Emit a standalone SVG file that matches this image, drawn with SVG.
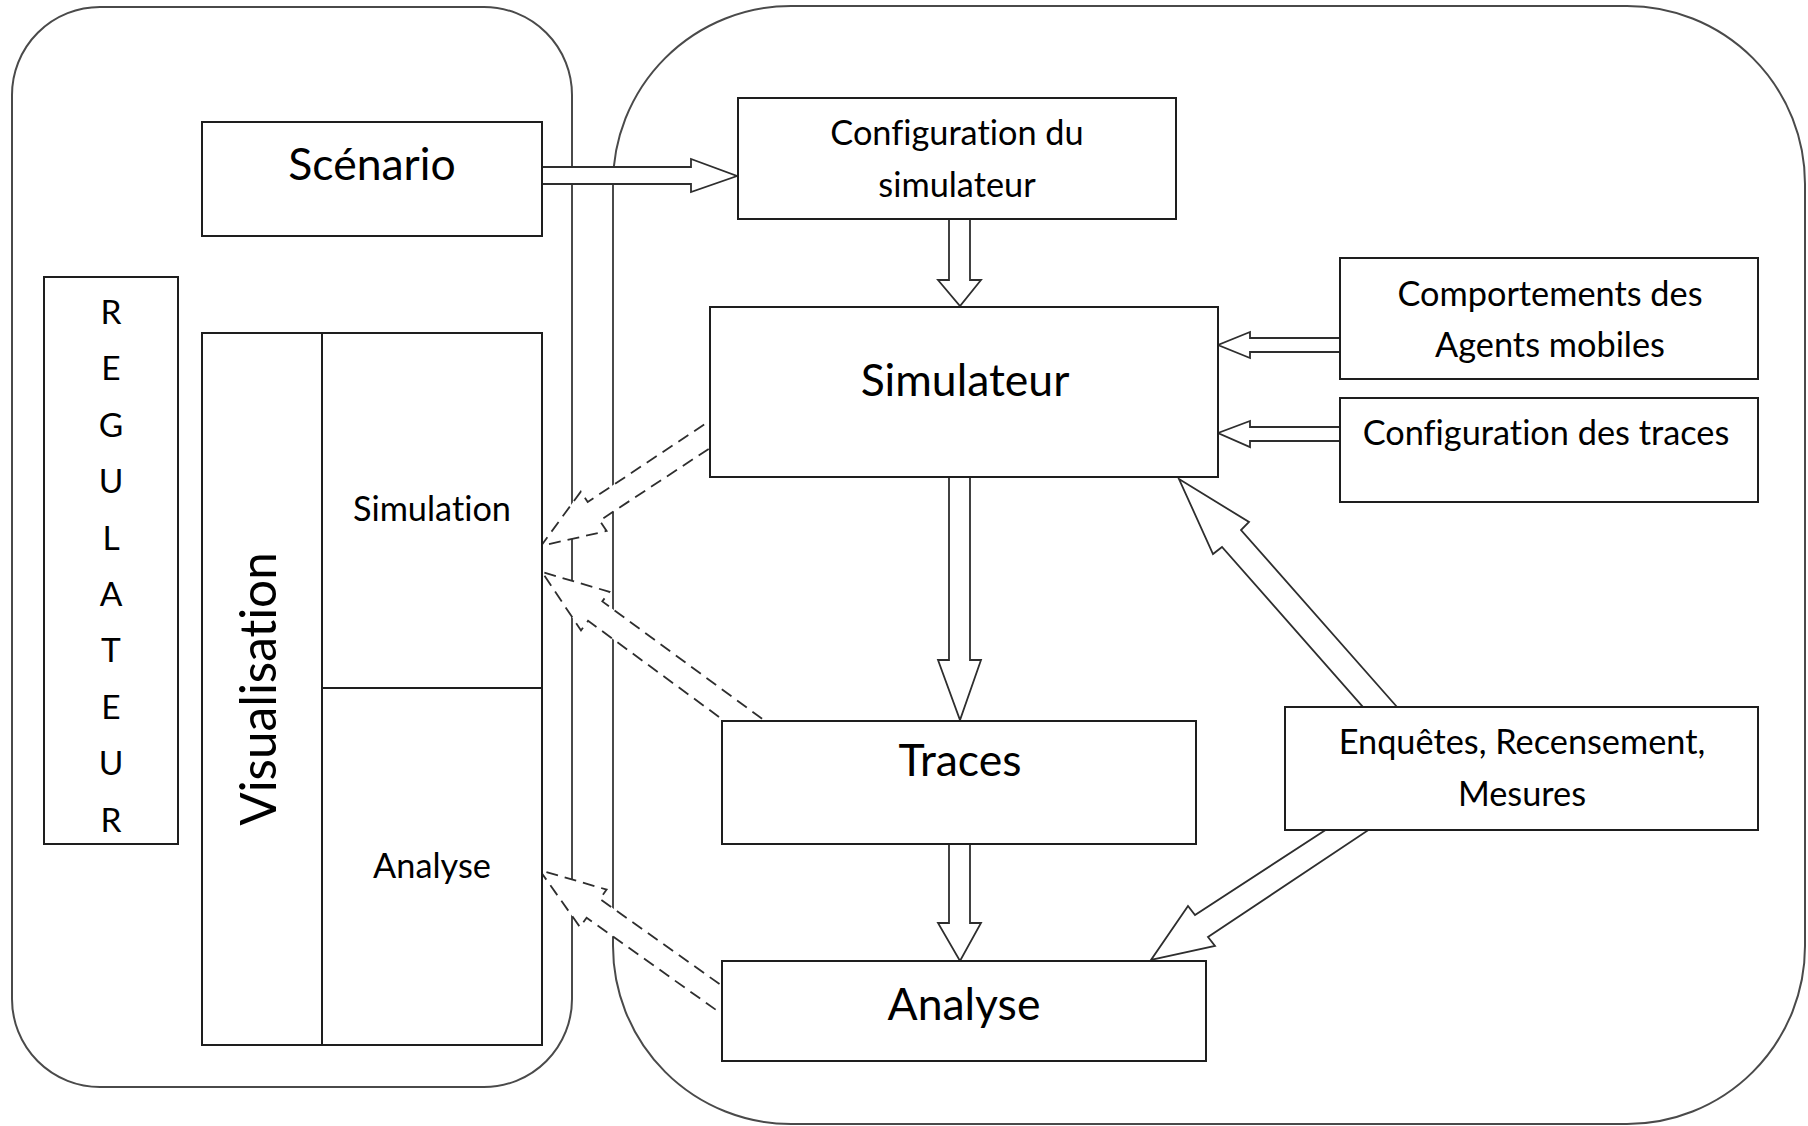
<svg xmlns="http://www.w3.org/2000/svg" width="1808" height="1126" viewBox="0 0 1808 1126">
<style>
.cont{fill:#fff;stroke:#4a4a4a;stroke-width:2}
.box{fill:#fff;stroke:#1e1e1e;stroke-width:2}
.arr{fill:#fff;stroke:#2e2e2e;stroke-width:1.8;stroke-linejoin:miter}
.dash{fill:#fff;stroke:#2e2e2e;stroke-width:1.8;stroke-dasharray:12 7}
.t{font-family:Lato,"Liberation Sans",sans-serif;fill:#000;text-anchor:middle;font-variant-ligatures:none}
.big{font-size:44.5px}
.med{font-size:34.3px}
.let{font-size:33.5px}
</style>
<rect width="1808" height="1126" fill="#fff"/>
<g id="containers">
<rect id="left-container" class="cont" x="12" y="7" width="560" height="1080" rx="88" ry="88"/>
<rect id="right-container" class="cont" x="613" y="6" width="1192" height="1118" rx="178" ry="178"/>
</g>
<g id="connectors">
<polygon class="arr" points="530,167 691,167 691,159 737,176 691,192 691,184 530,184"/>
<polygon class="arr" points="949,210 949,280 938,280 960,306 981,280 970,280 970,210"/>
<polygon class="arr" points="949,470 949,660 938,660 960,720 981,660 970,660 970,470"/>
<polygon class="arr" points="949,835 949,923 938,923 960,961 981,923 970,923 970,835"/>
<polygon class="arr" points="1350,338 1250,338 1250,332 1218,345 1250,358 1250,352 1350,352"/>
<polygon class="arr" points="1350,427 1250,427 1250,421 1218,433 1250,447 1250,441 1350,441"/>
<polygon class="arr" points="1408.5,720 1241,530 1249,522 1179,479 1213,554 1222,547 1374.5,720"/>
<polygon class="arr" points="1340.9,820 1195,915 1188,906 1151,960 1215,946 1208,937 1383.5,820"/>
<polygon class="dash" points="720,414 587.7,502 580.8,491.6 541,546 606.6,531 599.7,520.6 720,441.5"/>
<polygon class="dash" points="777.4,730 602.3,601.4 609.4,591.8 542,572 581,630.4 588.1,620.8 736.8,730"/>
<polygon class="dash" points="735,995.1 599.9,898.9 606.6,889.6 539.5,870 579.9,927 586.6,917.7 735,1023.4"/>
</g>
<g id="scenario">
<rect class="box" x="202" y="122" width="340" height="114"/>
<text class="t big" x="372" y="180">Scénario</text>
</g>
<g id="regulateur">
<rect class="box" x="44" y="277" width="134" height="567"/>
<text class="t let" x="111" y="324">R</text>
<text class="t let" x="111" y="380.4">E</text>
<text class="t let" x="111" y="436.8">G</text>
<text class="t let" x="111" y="493.2">U</text>
<text class="t let" x="111" y="549.6">L</text>
<text class="t let" x="111" y="606">A</text>
<text class="t let" x="111" y="662.4">T</text>
<text class="t let" x="111" y="718.8">E</text>
<text class="t let" x="111" y="775.2">U</text>
<text class="t let" x="111" y="831.6">R</text>
</g>
<g id="visualisation">
<rect class="box" x="202" y="333" width="340" height="712"/>
<line class="box" x1="322" y1="333" x2="322" y2="1045"/>
<line class="box" x1="322" y1="688" x2="542" y2="688"/>
<text class="t" style="font-size:49.5px" transform="translate(276,689) rotate(-90)">Visualisation</text>
</g>
<g id="simulation">
<text class="t med" x="432" y="521">Simulation</text>
</g>
<g id="analyse-vis">
<text class="t med" x="432" y="878">Analyse</text>
</g>
<g id="config-simulateur">
<rect class="box" x="738" y="98" width="438" height="121"/>
<text class="t med" x="957" y="145">Configuration du</text>
<text class="t med" x="957" y="197">simulateur</text>
</g>
<g id="simulateur">
<rect class="box" x="710" y="307" width="508" height="170"/>
<text class="t big" x="965" y="396">Simulateur</text>
</g>
<g id="traces">
<rect class="box" x="722" y="721" width="474" height="123"/>
<text class="t big" x="960" y="776">Traces</text>
</g>
<g id="analyse">
<rect class="box" x="722" y="961" width="484" height="100"/>
<text class="t big" x="964" y="1020">Analyse</text>
</g>
<g id="comportements">
<rect class="box" x="1340" y="258" width="418" height="121"/>
<text class="t med" x="1550" y="306">Comportements des</text>
<text class="t med" x="1550" y="357">Agents mobiles</text>
</g>
<g id="config-traces">
<rect class="box" x="1340" y="398" width="418" height="104"/>
<text class="t med" x="1546" y="445">Configuration des traces</text>
</g>
<g id="enquetes">
<rect class="box" x="1285" y="707" width="473" height="123"/>
<text class="t med" x="1522" y="754">Enquêtes, Recensement,</text>
<text class="t med" x="1522" y="806">Mesures</text>
</g>
</svg>
